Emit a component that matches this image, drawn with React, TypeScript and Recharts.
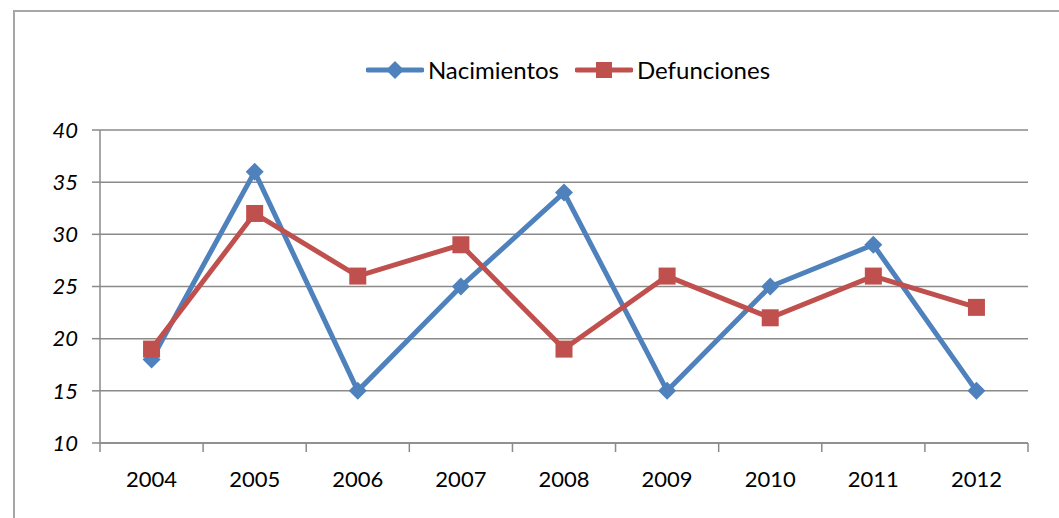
import { LineChart, Line, XAxis, YAxis, CartesianGrid, Legend } from "recharts";

const years = ["2004", "2005", "2006", "2007", "2008", "2009", "2010", "2011", "2012"];
const nacimientos = [18, 36, 15, 25, 34, 15, 25, 29, 15];
const defunciones = [19, 32, 26, 29, 19, 26, 22, 26, 23];
const yTicks = [10, 15, 20, 25, 30, 35, 40];

const BLUE = "#4F81BD";
const RED = "#C0504D";
const GRID = "#8a8a8a";
const FONT = "Lato, 'Open Sans', sans-serif";

const W = 1059;
const H = 518;
const margin = { top: 101, right: 31, bottom: 74, left: 40 };
const plotWidth = W - margin.left - 60 - margin.right;
const halfBand = plotWidth / years.length / 2;
const X_TICK_SIZE = 9;
const X_TICK_MARGIN = 19;

const data = years.map((year, i) => ({
  year,
  nacimientos: nacimientos[i],
  defunciones: defunciones[i],
}));

const Diamond = ({ cx, cy, r = 9, color = BLUE }: any) => (
  <polygon
    points={`${cx},${cy - r} ${cx + r},${cy} ${cx},${cy + r} ${cx - r},${cy}`}
    fill={color}
  />
);

const Square = ({ cx, cy, s = 17, color = RED }: any) => (
  <rect x={cx - s / 2} y={cy - s / 2} width={s} height={s} fill={color} />
);

// category label plus Excel-style tick marks between categories
const YearTick = ({ x, y, payload, index }: any) => {
  const axisY = y - X_TICK_SIZE - X_TICK_MARGIN;
  const isLast = index === years.length - 1;
  return (
    <g>
      <line x1={x - halfBand} y1={axisY} x2={x - halfBand} y2={axisY + X_TICK_SIZE} stroke={GRID} strokeWidth={1.5} />
      {isLast && (
        <line x1={x + halfBand} y1={axisY} x2={x + halfBand} y2={axisY + X_TICK_SIZE} stroke={GRID} strokeWidth={1.5} />
      )}
      <text x={x} y={y} dy="0.72em" textAnchor="middle" fill="#000" fontSize={22} fontFamily={FONT}>
        {payload.value}
      </text>
    </g>
  );
};

const legendItems = [
  { name: "Nacimientos", color: BLUE, shape: "diamond" },
  { name: "Defunciones", color: RED, shape: "square" },
];

const renderLegend = () => (
  <div
    style={{
      display: "flex",
      justifyContent: "center",
      gap: 16,
      fontFamily: FONT,
      fontSize: 24,
      color: "#000",
    }}
  >
    {legendItems.map((item) => (
      <div key={item.name} style={{ display: "flex", alignItems: "center" }}>
        <svg width={58} height={22} style={{ marginRight: 4 }}>
          <line x1={2} y1={11} x2={56} y2={11} stroke={item.color} strokeWidth={5} strokeLinecap="round" />
          {item.shape === "diamond" ? (
            <Diamond cx={29} cy={11} r={9} color={item.color} />
          ) : (
            <Square cx={29} cy={11} s={16} color={item.color} />
          )}
        </svg>
        <span>{item.name}</span>
      </div>
    ))}
  </div>
);

export default function App() {
  return (
    <div
      style={{
        position: "absolute",
        left: 0,
        top: 0,
        width: W,
        height: H,
        overflow: "hidden",
        background: "#fff",
      }}
    >
      <div
        style={{
          position: "absolute",
          left: 13,
          top: 10,
          width: W + 40,
          height: H + 40,
          border: "2px solid #a6a6a6",
          boxSizing: "border-box",
        }}
      />
      <div style={{ position: "absolute", left: 0, top: 0 }}>
        <LineChart width={W} height={H} data={data} margin={margin}>
          <CartesianGrid vertical={false} stroke={GRID} strokeWidth={1.5} />
          <XAxis
            dataKey="year"
            height={1}
            padding={{ left: halfBand, right: halfBand }}
            tickLine={false}
            tickSize={X_TICK_SIZE}
            tickMargin={X_TICK_MARGIN}
            axisLine={{ stroke: GRID, strokeWidth: 1.5 }}
            tick={<YearTick />}
            interval={0}
          />
          <YAxis
            width={60}
            domain={[10, 40]}
            ticks={yTicks}
            tickSize={8}
            tickMargin={14}
            axisLine={{ stroke: GRID, strokeWidth: 1.5 }}
            tickLine={{ stroke: GRID, strokeWidth: 1.5 }}
            tick={{ fill: "#000", fontSize: 22, fontFamily: FONT, fontStyle: "italic" }}
            interval={0}
          />
          <Legend
            verticalAlign="top"
            content={renderLegend}
            wrapperStyle={{ top: 55, left: 104, width: 928 }}
          />
          <Line
            dataKey="nacimientos"
            name="Nacimientos"
            stroke={BLUE}
            strokeWidth={5}
            dot={(p: any) => <Diamond key={`n-${p.index}`} cx={p.cx} cy={p.cy} />}
            activeDot={false}
            isAnimationActive={false}
          />
          <Line
            dataKey="defunciones"
            name="Defunciones"
            stroke={RED}
            strokeWidth={5}
            dot={(p: any) => <Square key={`d-${p.index}`} cx={p.cx} cy={p.cy} />}
            activeDot={false}
            isAnimationActive={false}
          />
        </LineChart>
      </div>
    </div>
  );
}
